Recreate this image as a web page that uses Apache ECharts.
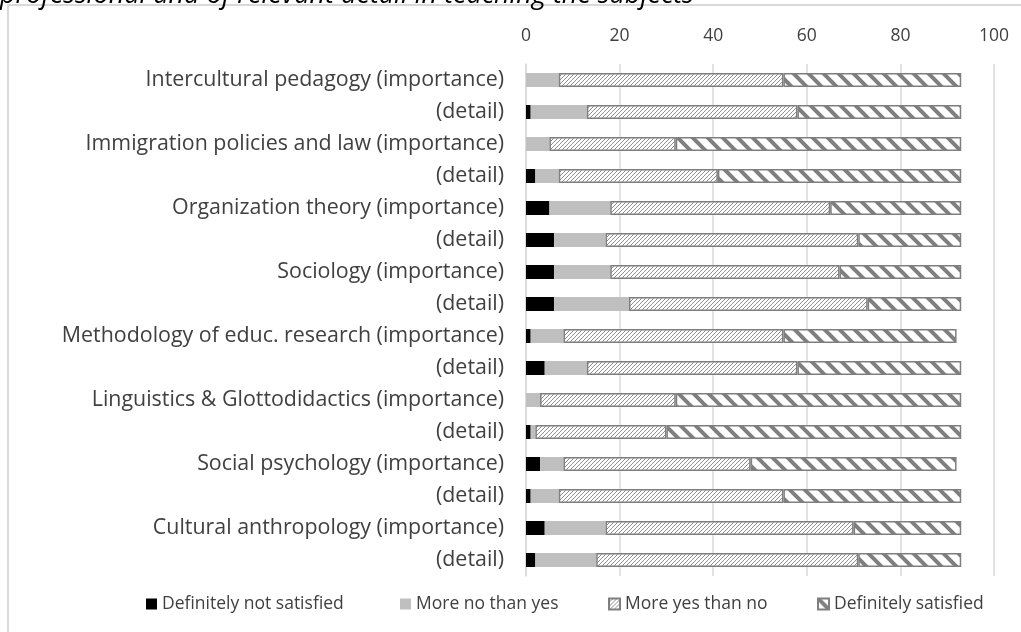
<!DOCTYPE html>
<html>
<head>
<meta charset="utf-8">
<script src="https://cdn.jsdelivr.net/npm/echarts@6/dist/echarts.min.js"></script>
<style>
html,body{margin:0;padding:0;background:#fff;}
#chart{width:1021px;height:632px;}
</style>
</head>
<body>
<div id="chart"></div>
<script>
const categories = [
  "Intercultural pedagogy (importance)", "(detail)",
  "Immigration policies and law (importance)", "(detail)",
  "Organization theory (importance)", "(detail)",
  "Sociology (importance)", "(detail)",
  "Methodology of educ. research (importance)", "(detail)",
  "Linguistics & Glottodidactics (importance)", "(detail)",
  "Social psychology (importance)", "(detail)",
  "Cultural anthropology (importance)", "(detail)"
];
const seriesNames = ["Definitely not satisfied", "More no than yes", "More yes than no", "Definitely satisfied"];
const defNotSatisfied = [0, 1, 0, 2, 5, 6, 6, 6, 1, 4, 0, 1, 3, 1, 4, 2];
const moreNoThanYes   = [7, 12, 5, 5, 13, 11, 12, 16, 7, 9, 3, 1, 5, 6, 13, 13];
const moreYesThanNo   = [48, 45, 27, 34, 47, 54, 49, 51, 47, 45, 29, 28, 40, 48, 53, 56];
const defSatisfied    = [38, 35, 61, 52, 28, 22, 26, 20, 37, 35, 61, 63, 44, 38, 23, 22];
const xTicks = [0, 20, 40, 60, 80, 100];
const titleText = "professional and of relevant detail in teaching the subjects";

function makeThinHatch() {
  const c = document.createElement('canvas');
  c.width = 4; c.height = 4;
  const g = c.getContext('2d');
  g.fillStyle = '#ffffff'; g.fillRect(0, 0, 4, 4);
  g.fillStyle = '#8c8c8c';
  for (let i = 0; i < 4; i++) g.fillRect(i, 3 - i, 1, 1);
  return c;
}
function makeWideHatch() {
  const s = 15;
  const c = document.createElement('canvas');
  c.width = s; c.height = s;
  const g = c.getContext('2d');
  g.fillStyle = '#ffffff'; g.fillRect(0, 0, s, s);
  g.strokeStyle = '#7f7f7f'; g.lineWidth = 4;
  for (const x of [-s, 0, s]) {
    g.beginPath(); g.moveTo(x - 2, -2); g.lineTo(x + s + 2, s + 2); g.stroke();
  }
  return c;
}
const thin = { image: makeThinHatch(), repeat: 'repeat' };
const wide = { image: makeWideHatch(), repeat: 'repeat' };

const FONT = 'Open Sans';
const TXT = '#404040';
const chart = echarts.init(document.getElementById('chart'), null, { renderer: 'canvas' });

const values = [defNotSatisfied, moreNoThanYes, moreYesThanNo, defSatisfied];
const styles = [
  { color: '#000000' },
  { color: '#bfbfbf' },
  { color: thin, borderColor: '#7f7f7f', borderWidth: 1.5 },
  { color: wide, borderColor: '#7f7f7f', borderWidth: 1.5 }
];
const legendLeft = [146, 400, 608, 817];

chart.setOption({
  animation: false,
  backgroundColor: '#ffffff',
  graphic: [
    { type: 'rect', z: -10, shape: { x: 8, y: 5, width: 1100, height: 1000 },
      style: { fill: 'none', stroke: '#d9d9d9', lineWidth: 2 } },
    { type: 'text', left: 0, top: -18,
      style: { text: titleText, font: 'italic 27px "Open Sans"', fill: '#000000' } }
  ],
  grid: { left: 526, right: 27, top: 64, bottom: 56, containLabel: false },
  xAxis: {
    type: 'value', position: 'top', min: 0, max: 100, interval: 20,
    axisLine: { show: false }, axisTick: { show: false },
    axisLabel: { fontFamily: FONT, fontSize: 17.5, color: TXT, margin: 19,
      formatter: v => xTicks.indexOf(v) >= 0 ? String(v) : '' },
    splitLine: { lineStyle: { color: '#d9d9d9', width: 1.5 } }
  },
  yAxis: {
    type: 'category', inverse: true, data: categories,
    axisLine: { show: true, lineStyle: { color: '#d9d9d9', width: 1.5 } },
    axisTick: { show: false },
    axisLabel: { fontFamily: FONT, fontSize: 21.4, color: TXT, margin: 22 }
  },
  legend: seriesNames.map((n, i) => ({
    data: [n], left: legendLeft[i], top: 595, itemWidth: 11, itemHeight: 11, icon: 'rect',
    itemGap: 0, padding: 0,
    textStyle: { fontFamily: FONT, fontSize: 17.5, color: TXT }
  })),
  series: seriesNames.map((n, i) => ({
    name: n, type: 'bar', stack: 'total', barWidth: 14,
    data: values[i], itemStyle: styles[i]
  }))
});
</script>
</body>
</html>
